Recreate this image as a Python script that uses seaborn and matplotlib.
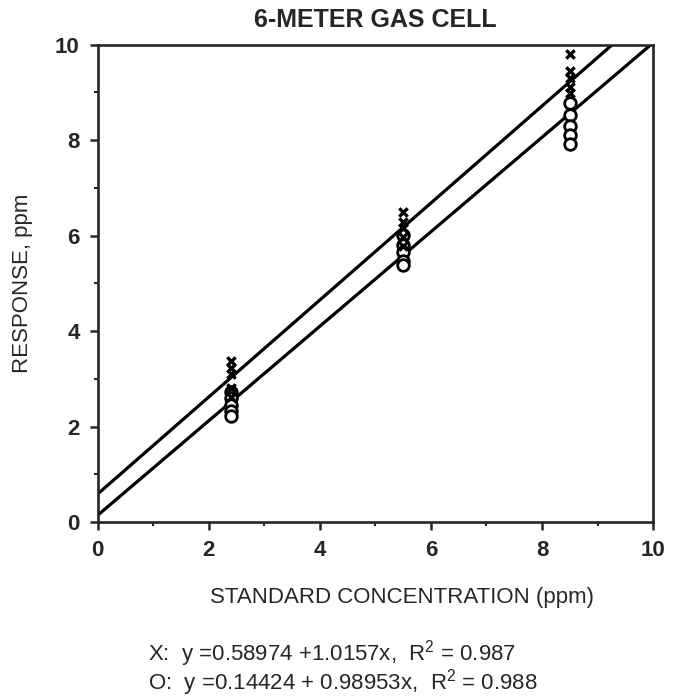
import matplotlib
matplotlib.use("Agg")
import matplotlib.pyplot as plt
import seaborn as sns
import pandas as pd
from matplotlib.ticker import MultipleLocator

# ---- data ----
conc = [2.4] * 5 + [5.5] * 5 + [8.5] * 5
resp_x = [3.38, 3.22, 3.1, 2.8, 2.62,
          6.5, 6.28, 6.15, 5.98, 5.78,
          9.8, 9.45, 9.3, 9.12, 8.98]
resp_o = [2.72, 2.6, 2.45, 2.32, 2.22,
          6.02, 5.8, 5.66, 5.47, 5.38,
          8.78, 8.52, 8.3, 8.1, 7.92]
fit_x = (0.58974, 1.0157)
fit_o = (0.14424, 0.98953)
x_ticks = [0, 2, 4, 6, 8, 10]
y_ticks = [0, 2, 4, 6, 8, 10]
title = "6-METER GAS CELL"
xlabel = "STANDARD CONCENTRATION (ppm)"
ylabel = "RESPONSE, ppm"
eq_x = "X:  y =0.58974 +1.0157x,  R$^2$ = 0.987"
eq_o = "O:  y =0.14424 + 0.98953x,  R$^2$ = 0.988"

sns.set_style("ticks")
plt.rcParams["font.family"] = ["Liberation Sans", "DejaVu Sans"]
plt.rcParams["mathtext.fontset"] = "custom"
plt.rcParams["mathtext.rm"] = "Liberation Sans"

df_x = pd.DataFrame({"conc": conc, "resp": resp_x})
df_o = pd.DataFrame({"conc": conc, "resp": resp_o})

fig = plt.figure(figsize=(6.74, 6.98), dpi=100)
ax = fig.add_axes([0.145, 0.252, 0.824, 0.684])

ax.axline((0, fit_x[0]), slope=fit_x[1], color="black", lw=2.3, zorder=2)
ax.axline((0, fit_o[0]), slope=fit_o[1], color="black", lw=2.3, zorder=2)

sns.scatterplot(data=df_o, x="conc", y="resp", ax=ax, marker="o", s=70,
                facecolor="white", edgecolor="black", linewidth=2.0, zorder=3)
sns.scatterplot(data=df_x, x="conc", y="resp", ax=ax, marker="x", s=36,
                color="black", linewidth=2.4, zorder=4)

ax.set_xlim(0, 10)
ax.set_ylim(0, 10)
ax.set_xticks(x_ticks)
ax.set_yticks(y_ticks)
ax.xaxis.set_minor_locator(MultipleLocator(1))
ax.yaxis.set_minor_locator(MultipleLocator(1))
ax.tick_params(which="major", length=6, width=1.8, labelsize=16, pad=7)
ax.tick_params(which="minor", length=3, width=1.5)
for lab in ax.get_xticklabels() + ax.get_yticklabels():
    lab.set_fontweight("bold")
for sp in ax.spines.values():
    sp.set_linewidth(1.9)
    sp.set_visible(True)

ax.set_xlabel(xlabel, fontsize=16, labelpad=22)
ax.xaxis.set_label_coords(0.547, -0.135)
ax.set_ylabel(ylabel, fontsize=16, labelpad=16)
ax.set_title(title, fontsize=18, fontweight="bold", pad=13)

fig.text(0.22, 0.064, eq_x, fontsize=16, va="center", ha="left")
fig.text(0.22, 0.022, eq_o, fontsize=16, va="center", ha="left")

fig.savefig("out.png", dpi=100)
